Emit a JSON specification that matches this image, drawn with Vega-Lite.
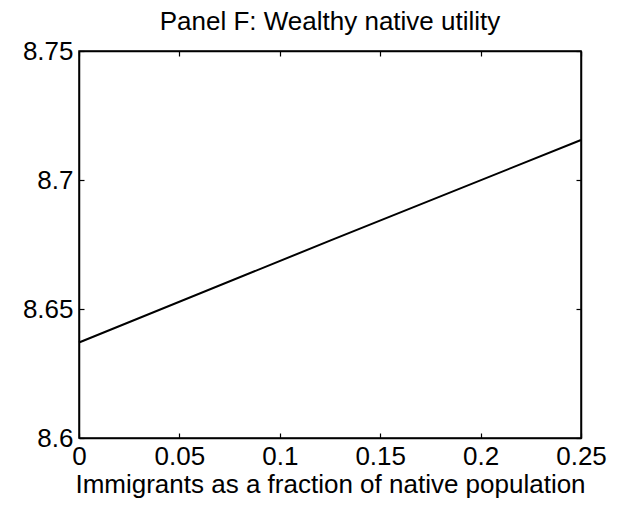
{
  "$schema": "https://vega.github.io/schema/vega-lite/v6.json",
  "width": 502,
  "height": 387,
  "autosize": "none",
  "padding": {"left": 79, "top": 51, "right": 37, "bottom": 69},
  "background": "white",
  "title": {
    "text": "Panel F: Wealthy native utility",
    "font": "Liberation Sans",
    "fontSize": 26,
    "fontWeight": "normal",
    "color": "black",
    "anchor": "middle",
    "offset": 12,
    "dy": 9
  },
  "data": {
    "values": [
      {"fraction": 0, "utility": 8.637},
      {"fraction": 0.125, "utility": 8.6765},
      {"fraction": 0.25, "utility": 8.7155}
    ]
  },
  "layer": [
    {
      "mark": {"type": "line", "color": "black", "strokeWidth": 2},
      "encoding": {
        "x": {
          "field": "fraction",
          "type": "quantitative",
          "scale": {"domain": [0, 0.25], "nice": false},
          "axis": {
            "orient": "bottom",
            "values": [0, 0.05, 0.1, 0.15, 0.2, 0.25],
            "format": "~g",
            "title": "Immigrants as a fraction of native population",
            "tickSize": -5,
            "labelPadding": 10,
            "titlePadding": 2
          }
        },
        "y": {
          "field": "utility",
          "type": "quantitative",
          "scale": {"domain": [8.6, 8.75], "nice": false, "zero": false},
          "axis": {
            "orient": "left",
            "values": [8.6, 8.65, 8.7, 8.75],
            "format": "~g",
            "title": null,
            "tickSize": -5,
            "labelPadding": 11
          }
        }
      }
    },
    {
      "mark": {"type": "point", "opacity": 0},
      "encoding": {
        "x": {
          "field": "fraction",
          "type": "quantitative",
          "axis": {
            "orient": "top",
            "values": [0, 0.05, 0.1, 0.15, 0.2, 0.25],
            "labels": false,
            "title": null,
            "tickSize": -5
          }
        },
        "y": {
          "field": "utility",
          "type": "quantitative",
          "axis": {
            "orient": "right",
            "values": [8.6, 8.65, 8.7, 8.75],
            "labels": false,
            "title": null,
            "tickSize": -5
          }
        }
      }
    }
  ],
  "resolve": {"axis": {"x": "independent", "y": "independent"}},
  "config": {
    "view": {"stroke": "black", "strokeWidth": 1.5},
    "axis": {
      "domainColor": "black",
      "domainWidth": 1.5,
      "tickColor": "black",
      "tickWidth": 1.2,
      "grid": false,
      "labelFont": "Liberation Sans",
      "labelFontSize": 26,
      "labelColor": "black",
      "labelFlush": false,
      "labelOverlap": false,
      "titleFont": "Liberation Sans",
      "titleFontSize": 26,
      "titleFontWeight": "normal",
      "titleColor": "black"
    }
  }
}
